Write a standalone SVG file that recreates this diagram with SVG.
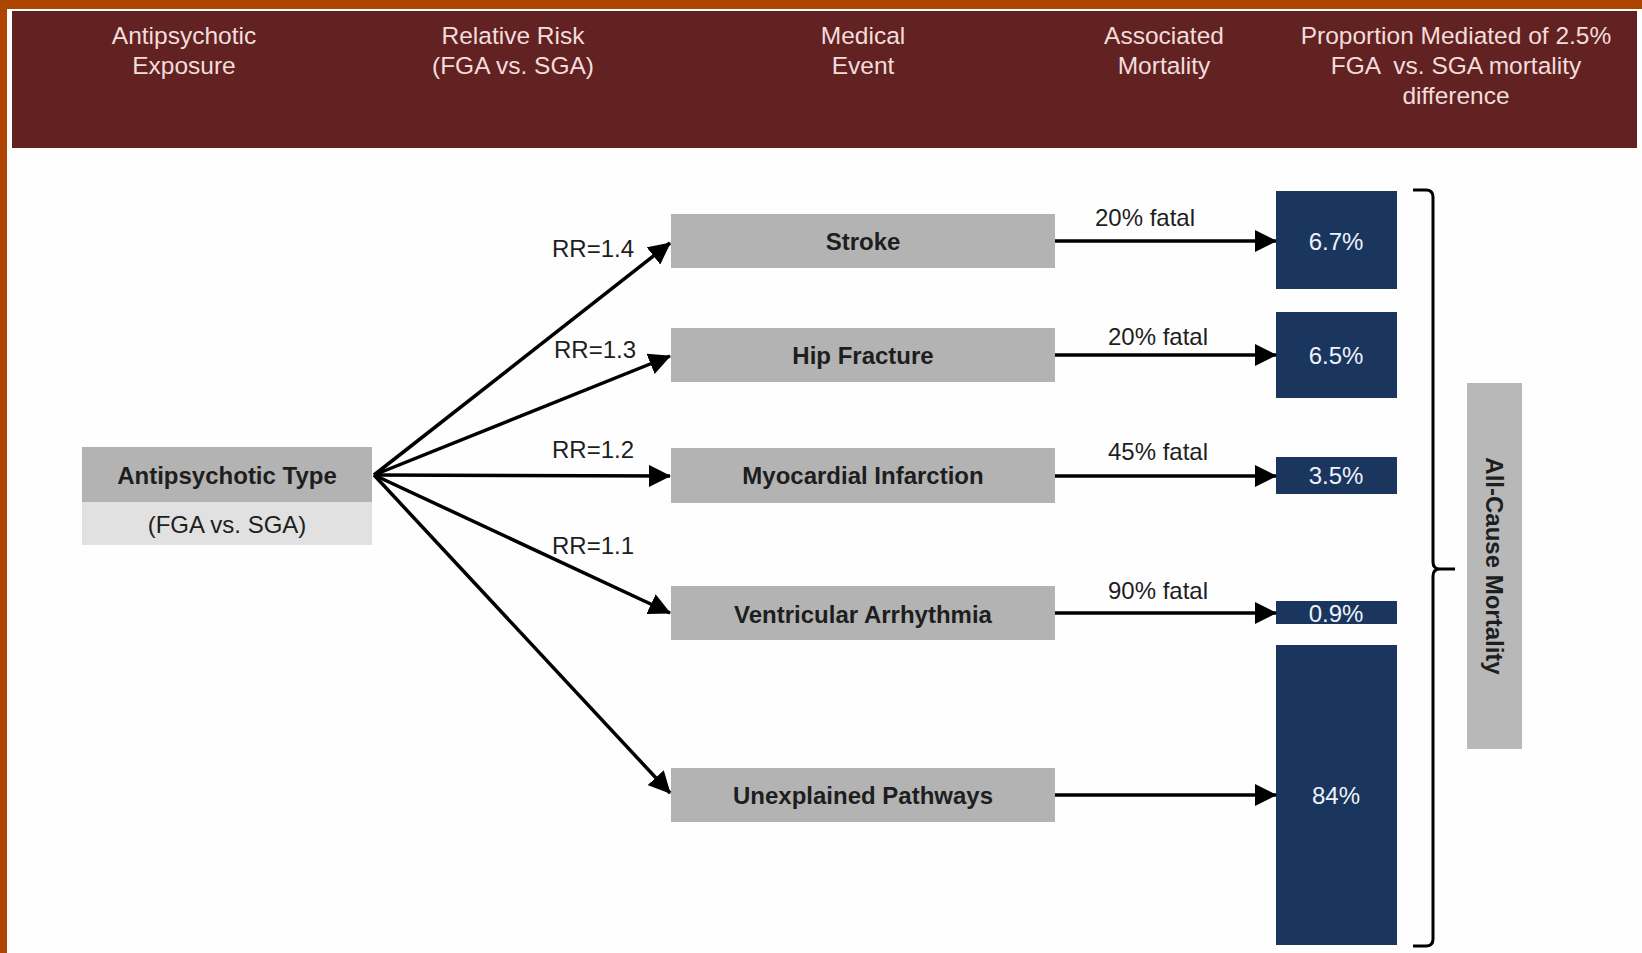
<svg xmlns="http://www.w3.org/2000/svg" width="1642" height="953" viewBox="0 0 1642 953">
<style>
.hdr{font-family:"Liberation Sans",Arial,sans-serif;font-size:24.5px;fill:#f3dcdc;text-anchor:middle}
.node{fill:#b3b3b3}
.nl{font-family:"Liberation Sans",Arial,sans-serif;font-size:24px;font-weight:bold;fill:#1e1e1e;text-anchor:middle}
.reg{font-family:"Liberation Sans",Arial,sans-serif;font-size:24px;fill:#1e1e1e;text-anchor:middle}
.blue{fill:#1a355e}
.bl{font-family:"Liberation Sans",Arial,sans-serif;font-size:24px;fill:#eef3fb;text-anchor:middle}
.arr{stroke:#000;stroke-width:3.5;fill:none;marker-end:url(#ah)}
</style>
<defs>
<marker id="ah" markerUnits="userSpaceOnUse" markerWidth="22" markerHeight="22" refX="21" refY="11" orient="auto">
<path d="M0,0 L22,11 L0,22 z" fill="#000"/>
</marker>
</defs>
<rect x="0" y="0" width="1642" height="953" fill="#ad4400"/>
<rect x="7" y="9" width="1635" height="944" fill="#fefefe"/>
<g id="header">
<rect x="12" y="11" width="1625" height="137" fill="#622222"/>
<text class="hdr" x="184" y="44">Antipsychotic</text>
<text class="hdr" x="184" y="74">Exposure</text>
<text class="hdr" x="513" y="44">Relative Risk</text>
<text class="hdr" x="513" y="74">(FGA vs. SGA)</text>
<text class="hdr" x="863" y="44">Medical</text>
<text class="hdr" x="863" y="74">Event</text>
<text class="hdr" x="1164" y="44">Associated</text>
<text class="hdr" x="1164" y="74">Mortality</text>
<text class="hdr" x="1456" y="44">Proportion Mediated of 2.5%</text>
<text class="hdr" x="1456" y="74" xml:space="preserve">FGA  vs. SGA mortality</text>
<text class="hdr" x="1456" y="104">difference</text>
</g>
<g id="antipsychotic-type">
<rect class="node" x="82" y="447" width="290" height="55"/>
<rect x="82" y="502" width="290" height="43" fill="#e1e1e1"/>
<text class="nl" x="227" y="484">Antipsychotic Type</text>
<text class="reg" x="227" y="533">(FGA vs. SGA)</text>
</g>
<g id="stroke">
<rect class="node" x="671" y="214" width="384" height="54"/>
<text class="nl" x="863" y="250">Stroke</text>
</g>
<g id="hip-fracture">
<rect class="node" x="671" y="328" width="384" height="54"/>
<text class="nl" x="863" y="364">Hip Fracture</text>
</g>
<g id="myocardial-infarction">
<rect class="node" x="671" y="448" width="384" height="55"/>
<text class="nl" x="863" y="484">Myocardial Infarction</text>
</g>
<g id="ventricular-arrhythmia">
<rect class="node" x="671" y="586" width="384" height="54"/>
<text class="nl" x="863" y="623">Ventricular Arrhythmia</text>
</g>
<g id="unexplained-pathways">
<rect class="node" x="671" y="768" width="384" height="54"/>
<text class="nl" x="863" y="804">Unexplained Pathways</text>
</g>
<g id="p-stroke">
<rect class="blue" x="1276" y="191" width="121" height="98"/>
<text class="bl" x="1336" y="250">6.7%</text>
</g>
<g id="p-hip">
<rect class="blue" x="1276" y="312" width="121" height="86"/>
<text class="bl" x="1336" y="364">6.5%</text>
</g>
<g id="p-mi">
<rect class="blue" x="1276" y="457" width="121" height="37"/>
<text class="bl" x="1336" y="484">3.5%</text>
</g>
<g id="p-va">
<rect class="blue" x="1276" y="601" width="121" height="23"/>
<text class="bl" x="1336" y="622">0.9%</text>
</g>
<g id="p-unexplained">
<rect class="blue" x="1276" y="645" width="121" height="300"/>
<text class="bl" x="1336" y="804">84%</text>
</g>
<g id="all-cause-mortality">
<rect x="1467" y="383" width="55" height="366" fill="#b8b8b8"/>
<text class="nl" transform="translate(1494,566) rotate(90)" x="0" y="8.5">All-Cause Mortality</text>
</g>
<g id="connectors">
<line class="arr" x1="374" y1="475" x2="670" y2="243"/>
<line class="arr" x1="374" y1="475" x2="670" y2="356"/>
<line class="arr" x1="374" y1="475" x2="670" y2="476"/>
<line class="arr" x1="374" y1="475" x2="670" y2="613"/>
<line class="arr" x1="374" y1="475" x2="670" y2="793"/>
<line class="arr" x1="1055" y1="241" x2="1276" y2="241"/>
<line class="arr" x1="1055" y1="355" x2="1276" y2="355"/>
<line class="arr" x1="1055" y1="476" x2="1276" y2="476"/>
<line class="arr" x1="1055" y1="613" x2="1276" y2="613"/>
<line class="arr" x1="1055" y1="795" x2="1276" y2="795"/>
<path d="M1413,190 L1426,190 Q1433,190 1433,197 L1433,562 Q1433,569 1440,569 L1455,569 M1440,569 Q1433,569 1433,576 L1433,939 Q1433,946 1426,946 L1413,946" stroke="#000" stroke-width="3" fill="none"/>
<text class="reg" x="593" y="257">RR=1.4</text>
<text class="reg" x="595" y="358">RR=1.3</text>
<text class="reg" x="593" y="458">RR=1.2</text>
<text class="reg" x="593" y="554">RR=1.1</text>
<text class="reg" x="1145" y="226">20% fatal</text>
<text class="reg" x="1158" y="345">20% fatal</text>
<text class="reg" x="1158" y="460">45% fatal</text>
<text class="reg" x="1158" y="599">90% fatal</text>
</g>
</svg>
